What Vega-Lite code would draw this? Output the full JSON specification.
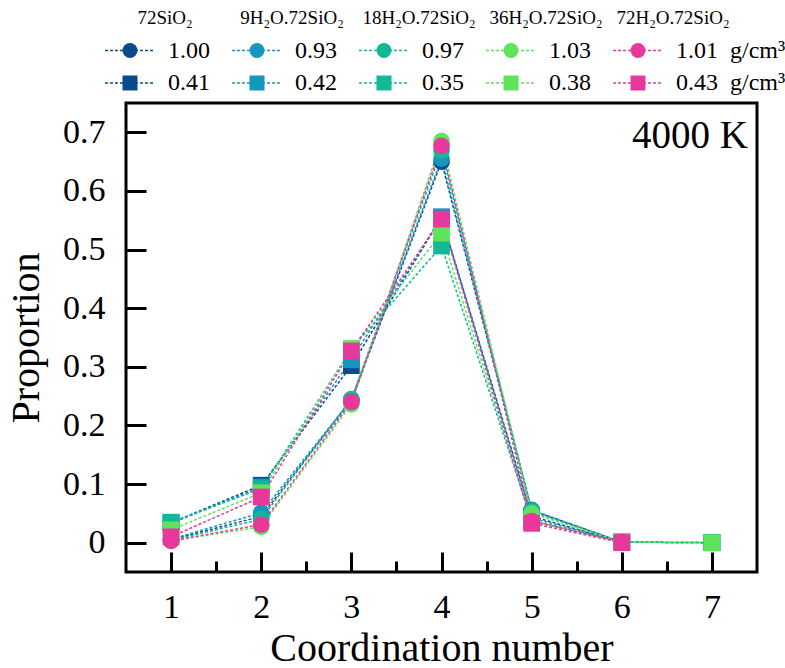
{
  "$schema": "https://vega.github.io/schema/vega-lite/v6.json",
  "padding": {"top": 9, "left": 5, "right": 5, "bottom": 3},
  "config": {"font": "Liberation Serif", "concat": {"spacing": 6}},
  "datasets": {
    "pts": [
      {"s": "72SiO2", "d": "hi", "cn": 1, "p": 0.005}, {"s": "72SiO2", "d": "hi", "cn": 2, "p": 0.045}, {"s": "72SiO2", "d": "hi", "cn": 3, "p": 0.243}, {"s": "72SiO2", "d": "hi", "cn": 4, "p": 0.65}, {"s": "72SiO2", "d": "hi", "cn": 5, "p": 0.055}, {"s": "72SiO2", "d": "hi", "cn": 6, "p": 0.001},
      {"s": "72SiO2", "d": "lo", "cn": 1, "p": 0.034}, {"s": "72SiO2", "d": "lo", "cn": 2, "p": 0.098}, {"s": "72SiO2", "d": "lo", "cn": 3, "p": 0.302}, {"s": "72SiO2", "d": "lo", "cn": 4, "p": 0.555}, {"s": "72SiO2", "d": "lo", "cn": 5, "p": 0.045}, {"s": "72SiO2", "d": "lo", "cn": 6, "p": 0.001}, {"s": "72SiO2", "d": "lo", "cn": 7, "p": 0.0},
      {"s": "9H2O", "d": "hi", "cn": 1, "p": 0.006}, {"s": "9H2O", "d": "hi", "cn": 2, "p": 0.051}, {"s": "9H2O", "d": "hi", "cn": 3, "p": 0.244}, {"s": "9H2O", "d": "hi", "cn": 4, "p": 0.655}, {"s": "9H2O", "d": "hi", "cn": 5, "p": 0.056}, {"s": "9H2O", "d": "hi", "cn": 6, "p": 0.001},
      {"s": "9H2O", "d": "lo", "cn": 1, "p": 0.033}, {"s": "9H2O", "d": "lo", "cn": 2, "p": 0.095}, {"s": "9H2O", "d": "lo", "cn": 3, "p": 0.312}, {"s": "9H2O", "d": "lo", "cn": 4, "p": 0.556}, {"s": "9H2O", "d": "lo", "cn": 5, "p": 0.042}, {"s": "9H2O", "d": "lo", "cn": 6, "p": 0.001}, {"s": "9H2O", "d": "lo", "cn": 7, "p": 0.0},
      {"s": "18H2O", "d": "hi", "cn": 1, "p": 0.004}, {"s": "18H2O", "d": "hi", "cn": 2, "p": 0.04}, {"s": "18H2O", "d": "hi", "cn": 3, "p": 0.245}, {"s": "18H2O", "d": "hi", "cn": 4, "p": 0.669}, {"s": "18H2O", "d": "hi", "cn": 5, "p": 0.053}, {"s": "18H2O", "d": "hi", "cn": 6, "p": 0.001},
      {"s": "18H2O", "d": "lo", "cn": 1, "p": 0.035}, {"s": "18H2O", "d": "lo", "cn": 2, "p": 0.092}, {"s": "18H2O", "d": "lo", "cn": 3, "p": 0.33}, {"s": "18H2O", "d": "lo", "cn": 4, "p": 0.506}, {"s": "18H2O", "d": "lo", "cn": 5, "p": 0.038}, {"s": "18H2O", "d": "lo", "cn": 6, "p": 0.001}, {"s": "18H2O", "d": "lo", "cn": 7, "p": 0.0},
      {"s": "36H2O", "d": "hi", "cn": 1, "p": 0.003}, {"s": "36H2O", "d": "hi", "cn": 2, "p": 0.027}, {"s": "36H2O", "d": "hi", "cn": 3, "p": 0.236}, {"s": "36H2O", "d": "hi", "cn": 4, "p": 0.685}, {"s": "36H2O", "d": "hi", "cn": 5, "p": 0.05}, {"s": "36H2O", "d": "hi", "cn": 6, "p": 0.001},
      {"s": "36H2O", "d": "lo", "cn": 1, "p": 0.022}, {"s": "36H2O", "d": "lo", "cn": 2, "p": 0.085}, {"s": "36H2O", "d": "lo", "cn": 3, "p": 0.331}, {"s": "36H2O", "d": "lo", "cn": 4, "p": 0.528}, {"s": "36H2O", "d": "lo", "cn": 5, "p": 0.036}, {"s": "36H2O", "d": "lo", "cn": 6, "p": 0.001}, {"s": "36H2O", "d": "lo", "cn": 7, "p": 0.0},
      {"s": "72H2O", "d": "hi", "cn": 1, "p": 0.003}, {"s": "72H2O", "d": "hi", "cn": 2, "p": 0.031}, {"s": "72H2O", "d": "hi", "cn": 3, "p": 0.24}, {"s": "72H2O", "d": "hi", "cn": 4, "p": 0.677}, {"s": "72H2O", "d": "hi", "cn": 5, "p": 0.037}, {"s": "72H2O", "d": "hi", "cn": 6, "p": 0.001},
      {"s": "72H2O", "d": "lo", "cn": 1, "p": 0.01}, {"s": "72H2O", "d": "lo", "cn": 2, "p": 0.078}, {"s": "72H2O", "d": "lo", "cn": 3, "p": 0.327}, {"s": "72H2O", "d": "lo", "cn": 4, "p": 0.552}, {"s": "72H2O", "d": "lo", "cn": 5, "p": 0.033}, {"s": "72H2O", "d": "lo", "cn": 6, "p": 0.0}
    ],
    "leg": [
      {"s": "72SiO2", "d": "hi", "label": "1.00"}, {"s": "9H2O", "d": "hi", "label": "0.93"}, {"s": "18H2O", "d": "hi", "label": "0.97"}, {"s": "36H2O", "d": "hi", "label": "1.03"}, {"s": "72H2O", "d": "hi", "label": "1.01\u00a0\u00a0g/cm³"},
      {"s": "72SiO2", "d": "lo", "label": "0.41"}, {"s": "9H2O", "d": "lo", "label": "0.42"}, {"s": "18H2O", "d": "lo", "label": "0.35"}, {"s": "36H2O", "d": "lo", "label": "0.38"}, {"s": "72H2O", "d": "lo", "label": "0.43\u00a0\u00a0g/cm³"}
    ],
    "sys": [
      {"s": "72SiO2", "header": "72SiO₂"}, {"s": "9H2O", "header": "9H₂O.72SiO₂"}, {"s": "18H2O", "header": "18H₂O.72SiO₂"}, {"s": "36H2O", "header": "36H₂O.72SiO₂"}, {"s": "72H2O", "header": "72H₂O.72SiO₂"}
    ],
    "note": [{"label": "4000 K"}]
  },
  "vconcat": [
    {
      "width": 516,
      "height": 65,
      "view": {"stroke": null},
      "encoding": {
        "x": {"field": "s", "type": "nominal", "sort": ["72SiO2", "9H2O", "18H2O", "36H2O", "72H2O"], "scale": {"type": "point", "domain": ["72SiO2", "9H2O", "18H2O", "36H2O", "72H2O"], "padding": 0.0315}, "axis": null}
      },
      "layer": [
        {
          "data": {"name": "leg"},
          "mark": {"type": "point", "shape": "M-5,0H5", "size": 100, "filled": false, "strokeDash": [3, 2], "strokeWidth": 1.5, "opacity": 1},
          "encoding": {
            "y": {"field": "d", "type": "nominal", "scale": {"type": "point", "domain": ["hdr", "hi", "lo"], "padding": 0}, "axis": null},
            "color": {"field": "s", "type": "nominal", "scale": {"domain": ["72SiO2", "9H2O", "18H2O", "36H2O", "72H2O"], "range": ["#0b4a8c", "#1597c0", "#13b896", "#5ee35b", "#e6399b"]}, "legend": null}
          }
        },
        {
          "data": {"name": "leg"},
          "mark": {"type": "point", "filled": true, "size": 225, "opacity": 1},
          "encoding": {
            "y": {"field": "d", "type": "nominal", "scale": {"type": "point", "domain": ["hdr", "hi", "lo"], "padding": 0}, "axis": null},
            "color": {"field": "s", "type": "nominal", "scale": {"domain": ["72SiO2", "9H2O", "18H2O", "36H2O", "72H2O"], "range": ["#0b4a8c", "#1597c0", "#13b896", "#5ee35b", "#e6399b"]}, "legend": null},
            "shape": {"field": "d", "type": "nominal", "scale": {"domain": ["hi", "lo"], "range": ["circle", "square"]}, "legend": null}
          }
        },
        {
          "data": {"name": "leg"},
          "mark": {"type": "text", "align": "left", "baseline": "middle", "dx": 38, "fontSize": 24, "color": "black"},
          "encoding": {
            "y": {"field": "d", "type": "nominal", "scale": {"type": "point", "domain": ["hdr", "hi", "lo"], "padding": 0}, "axis": null},
            "text": {"field": "label"}
          }
        },
        {
          "data": {"name": "sys"},
          "mark": {"type": "text", "align": "center", "baseline": "middle", "dx": 35, "fontSize": 19, "color": "black"},
          "encoding": {
            "y": {"datum": "hdr", "type": "nominal", "scale": {"type": "point", "domain": ["hdr", "hi", "lo"], "padding": 0}, "axis": null},
            "text": {"field": "header"}
          }
        }
      ]
    },
    {
      "width": 631,
      "height": 469,
      "view": {"stroke": "black", "strokeWidth": 3},
      "layer": [
        {
          "data": {"name": "pts"},
          "mark": {"type": "line", "strokeDash": [3, 2], "strokeWidth": 1.5},
          "encoding": {
            "x": {"field": "cn", "type": "quantitative", "scale": {"domain": [0.5, 7.5], "nice": false, "zero": false},
              "axis": {"values": [1, 1.5, 2, 2.5, 3, 3.5, 4, 4.5, 5, 5.5, 6, 6.5, 7], "domain": false, "grid": false,
                "tickColor": "black", "tickWidth": 3,
                "tickSize": {"condition": {"test": "datum.value % 1 === 0", "value": -20}, "value": -11},
                "labelExpr": "datum.value % 1 === 0 ? format(datum.value, 'd') : ''",
                "labelFontSize": 34, "labelColor": "black", "labelPadding": 38,
                "title": "Coordination number", "titleFontSize": 40, "titleFontWeight": "normal", "titleColor": "black", "titlePadding": 4}},
            "y": {"field": "p", "type": "quantitative", "scale": {"domain": [-0.05, 0.75], "nice": false, "zero": false},
              "axis": {"values": [0, 0.05, 0.1, 0.15, 0.2, 0.25, 0.3, 0.35, 0.4, 0.45, 0.5, 0.55, 0.6, 0.65, 0.7], "domain": false, "grid": false,
                "tickColor": "black", "tickWidth": 3,
                "tickSize": {"condition": {"test": "round(datum.value*100) % 10 === 0", "value": -20}, "value": -11},
                "labelExpr": "round(datum.value*100) % 10 === 0 ? format(datum.value, '.1~f') : ''",
                "labelFontSize": 34, "labelColor": "black", "labelPadding": 41,
                "title": "Proportion", "titleFontSize": 40, "titleFontWeight": "normal", "titleColor": "black", "titlePadding": 16}},
            "color": {"field": "s", "type": "nominal", "scale": {"domain": ["72SiO2", "9H2O", "18H2O", "36H2O", "72H2O"], "range": ["#0b4a8c", "#1597c0", "#13b896", "#5ee35b", "#e6399b"]}, "legend": null},
            "detail": {"field": "d", "type": "nominal"}
          }
        },
        {
          "data": {"name": "pts"},
          "mark": {"type": "point", "filled": true, "size": 280, "opacity": 1},
          "encoding": {
            "x": {"field": "cn", "type": "quantitative"},
            "y": {"field": "p", "type": "quantitative"},
            "color": {"field": "s", "type": "nominal", "scale": {"domain": ["72SiO2", "9H2O", "18H2O", "36H2O", "72H2O"], "range": ["#0b4a8c", "#1597c0", "#13b896", "#5ee35b", "#e6399b"]}, "legend": null},
            "shape": {"field": "d", "type": "nominal", "scale": {"domain": ["hi", "lo"], "range": ["circle", "square"]}, "legend": null}
          }
        },
        {
          "data": {"name": "note"},
          "mark": {"type": "text", "align": "right", "baseline": "alphabetic", "dx": -9, "fontSize": 39, "color": "black"},
          "encoding": {"x": {"datum": 7.5}, "y": {"datum": 0.673}, "text": {"field": "label"}}
        }
      ]
    }
  ]
}
